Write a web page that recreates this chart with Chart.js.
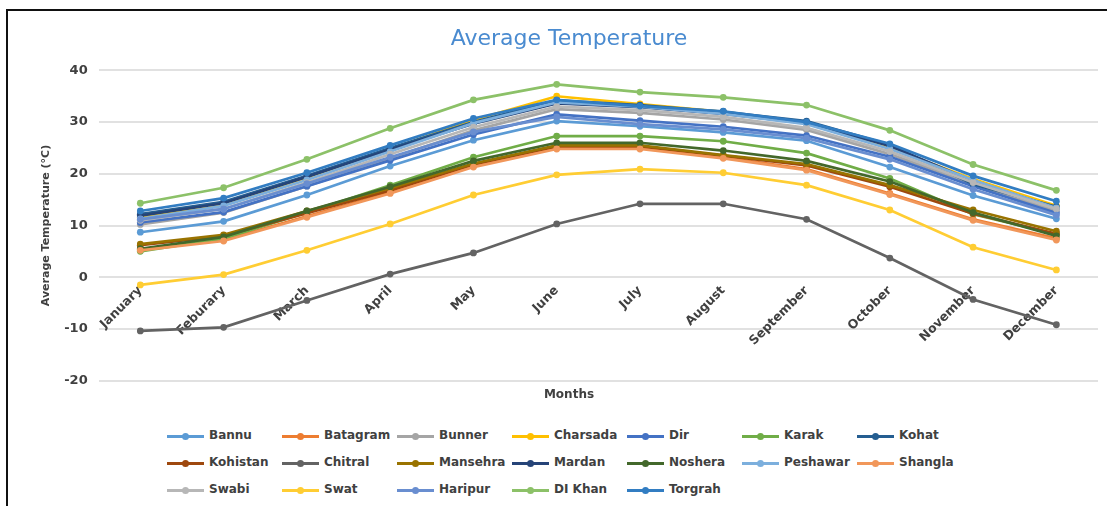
<!DOCTYPE html>
<html>
<head>
<meta charset="utf-8">
<script src="https://cdn.jsdelivr.net/npm/chart.js@4.4.0/dist/chart.umd.min.js"></script>
<style>
  body { margin: 0; background: #fff; font-family: "DejaVu Sans", sans-serif; }
  #frame { position: absolute; left: 6px; top: 9px; width: 1101px; height: 497px; border-left: 2px solid #111; border-top: 2px solid #111; }
  #chartbox { position: absolute; left: 8px; top: 12px; width: 1099px; height: 410px; }
  #legend { position: absolute; left: 167px; top: 423px; width: 805px; }
  .lg-item { display: inline-block; width: 115px; height: 27px; position: relative; vertical-align: top; }
  .lg-line { position: absolute; left: 0; top: 12px; width: 37px; height: 3px; }
  .lg-dot { position: absolute; left: 15px; top: 10px; width: 7px; height: 7px; border-radius: 50%; }
  .lg-text { position: absolute; left: 42px; top: 5px; font: bold 12px "DejaVu Sans", sans-serif; color: #404040; white-space: nowrap; }
</style>
</head>
<body>
<div id="frame"></div>
<div id="chartbox"><canvas id="char"></canvas></div>
<div id="legend"></div>
<script>
var months = ["January", "Feburary", "March", "April", "May", "June", "July", "August", "September", "October", "November", "December"];
var yTicks = [-20, -10, 0, 10, 20, 30, 40];

var bannu    = [8.7, 10.8, 15.9, 21.5, 26.5, 30.2, 29.2, 28.0, 26.4, 21.3, 15.8, 11.3];
var batagram = [5.4, 7.2, 11.8, 16.4, 21.5, 25.0, 25.0, 23.2, 20.9, 16.2, 11.2, 7.5];
var bunner   = [10.2, 12.5, 17.6, 23.0, 28.4, 32.5, 31.8, 30.5, 28.5, 23.8, 18.0, 12.8];
var charsada = [11.6, 14.1, 19.3, 24.8, 30.4, 35.0, 33.5, 32.0, 29.9, 25.0, 19.0, 13.8];
var dir      = [10.6, 12.6, 17.6, 22.6, 27.6, 31.5, 30.3, 29.1, 27.4, 23.3, 17.6, 12.4];
var karak    = [5.0, 7.5, 12.5, 17.8, 23.2, 27.3, 27.3, 26.3, 24.0, 19.1, 12.2, 8.3];
var kohat    = [12.2, 14.6, 19.6, 25.0, 30.0, 34.2, 33.3, 32.0, 30.2, 25.6, 18.0, 13.6];
var kohistan = [6.2, 8.0, 12.4, 16.8, 21.8, 25.3, 25.3, 23.5, 21.6, 17.5, 12.3, 8.4];
var chitral  = [-10.4, -9.7, -4.5, 0.6, 4.7, 10.3, 14.2, 14.2, 11.2, 3.7, -4.3, -9.2];
var mansehra = [6.4, 8.2, 12.8, 17.2, 22.0, 25.5, 25.5, 23.6, 21.9, 17.8, 13.0, 8.9];
var mardan   = [11.9, 14.3, 19.4, 24.7, 29.7, 33.6, 32.9, 31.6, 29.8, 25.4, 18.6, 13.4];
var noshera  = [5.5, 7.8, 12.8, 17.5, 22.5, 26.0, 26.0, 24.5, 22.5, 18.5, 12.5, 8.0];
var peshawar = [11.3, 13.8, 18.8, 24.3, 29.8, 33.8, 33.0, 31.6, 29.6, 24.8, 18.8, 13.4];
var shangla  = [5.2, 7.0, 11.6, 16.2, 21.3, 24.8, 24.8, 23.0, 20.7, 16.0, 11.0, 7.2];
var swabi    = [11.0, 13.2, 18.3, 23.8, 29.0, 33.0, 32.3, 31.0, 28.9, 24.3, 18.3, 13.2];
var swat     = [-1.5, 0.5, 5.2, 10.3, 15.9, 19.8, 20.9, 20.2, 17.8, 13.0, 5.8, 1.4];
var haripur  = [11.2, 13.2, 18.1, 23.2, 28.1, 31.0, 29.6, 28.6, 26.9, 22.8, 17.0, 12.0];
var diKhan   = [14.3, 17.3, 22.8, 28.8, 34.3, 37.3, 35.8, 34.8, 33.3, 28.4, 21.8, 16.8];
var torgrah  = [12.8, 15.3, 20.2, 25.5, 30.7, 34.3, 33.1, 32.1, 30.0, 25.8, 19.6, 14.7];

var names = ["Bannu", "Batagram", "Bunner", "Charsada", "Dir", "Karak", "Kohat", "Kohistan", "Chitral", "Mansehra",
  "Mardan", "Noshera", "Peshawar", "Shangla", "Swabi", "Swat", "Haripur", "DI Khan", "Torgrah"];
var series = [bannu, batagram, bunner, charsada, dir, karak, kohat, kohistan, chitral, mansehra,
  mardan, noshera, peshawar, shangla, swabi, swat, haripur, diKhan, torgrah];
var colors = ["#5b9bd5", "#ed7d31", "#a5a5a5", "#ffc000", "#4472c4", "#70ad47", "#255e91", "#9e480e", "#636363", "#997300",
  "#264478", "#43682b", "#7cafdd", "#f1975a", "#b7b7b7", "#ffcd33", "#698ed0", "#8cc168", "#327dc2"];

var datasets = [];
for (var i = 0; i < names.length; i++) {
  datasets.push({
    label: names[i],
    data: series[i],
    borderColor: colors[i],
    backgroundColor: colors[i],
    borderWidth: 2.7,
    pointRadius: 3.4,
    pointBorderWidth: 0,
    pointBackgroundColor: colors[i],
    order: names.length - i
  });
}

const ctx = document.getElementById("char").getContext("2d");
const myChart = new Chart(ctx, {
  type: "line",
  data: { labels: months, datasets: datasets },
  options: {
    animation: false,
    responsive: true,
    maintainAspectRatio: false,
    layout: { padding: { left: 32, right: 9, top: 0, bottom: 0 } },
    plugins: {
      legend: { display: false },
      tooltip: { enabled: false },
      title: {
        display: true,
        text: "Average Temperature",
        color: "#4a8bd0",
        font: { family: "DejaVu Sans", size: 22, weight: "normal" },
        padding: { top: 14, bottom: 18 }
      },
      subtitle: {
        display: true,
        position: "bottom",
        text: "Months",
        color: "#404040",
        font: { family: "DejaVu Sans", size: 12, weight: "bold" },
        padding: { top: 7, bottom: 20 }
      }
    },
    scales: {
      x: {
        position: { y: 0 },
        offset: true,
        grid: { display: false, drawTicks: false },
        border: { display: false },
        ticks: {
          minRotation: 45,
          maxRotation: 45,
          padding: 6,
          color: "#404040",
          font: { family: "DejaVu Sans", size: 12.5, weight: "bold" }
        }
      },
      y: {
        min: yTicks[0],
        max: yTicks[yTicks.length - 1],
        afterBuildTicks: function (axis) {
          axis.ticks = yTicks.map(function (v) { return { value: v }; });
        },
        grid: { color: "#e1e1e1", lineWidth: 2, drawTicks: false },
        border: { display: false },
        ticks: {
          padding: 11,
          color: "#404040",
          font: { family: "DejaVu Sans", size: 13, weight: "bold" }
        },
        title: {
          display: true,
          text: "Average Temperature (°C)",
          color: "#404040",
          font: { family: "DejaVu Sans", size: 11, weight: "bold" },
          padding: { top: 0, bottom: 0 }
        }
      }
    }
  }
});

// legend built by hand so the columns line up like the original
var legend = document.getElementById("legend");
myChart.data.datasets.forEach(function (ds) {
  var item = document.createElement("div");
  item.className = "lg-item";
  item.innerHTML = '<span class="lg-line" style="background:' + ds.borderColor + '"></span>' +
    '<span class="lg-dot" style="background:' + ds.borderColor + '"></span>' +
    '<span class="lg-text">' + ds.label + '</span>';
  legend.appendChild(item);
});
</script>
</body>
</html>
